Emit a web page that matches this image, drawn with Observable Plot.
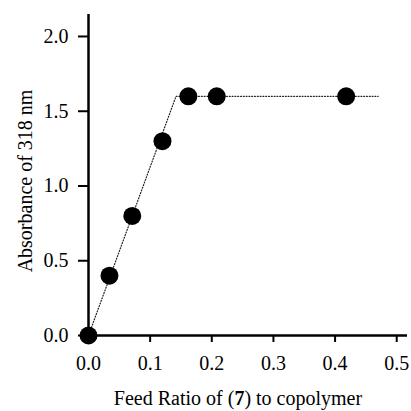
<!DOCTYPE html>
<html>
<head>
<meta charset="utf-8">
<script src="https://cdn.jsdelivr.net/npm/d3@7"></script>
<script src="https://cdn.jsdelivr.net/npm/@observablehq/plot@0.6"></script>
<style>
  html, body { margin: 0; padding: 0; background: white; }
</style>
</head>
<body>
<div id="chart"></div>
<script>
// Measured points
const feedRatio = [0, 0.034, 0.071, 0.12, 0.162, 0.208, 0.418];
const absorbance = [0.0, 0.4, 0.8, 1.3, 1.6, 1.6, 1.6];
// Dotted guide line
const fitX = [0, 0.142, 0.47];
const fitY = [0.0, 1.6, 1.6];
// Ticks
const xTicks = [0, 0.1, 0.2, 0.3, 0.4, 0.5];
const yTicks = [0, 0.5, 1.0, 1.5, 2.0];
// Labels
const yLabel = "Absorbance of 318 nm";
const xLabelParts = [["Feed Ratio of (", false], ["7", true], [") to copolymer", false]];

const points = feedRatio.map((x, i) => ({x, y: absorbance[i]}));
const fit = fitX.map((x, i) => ({x, y: fitY[i]}));
const fmt = d3.format(".1f");
const serif = "'Liberation Serif', 'Times New Roman', serif";

const chart = Plot.plot({
  width: 411,
  height: 411,
  marginLeft: 88,
  marginRight: 4,
  marginTop: 14,
  marginBottom: 76,
  style: {fontFamily: serif, fontSize: "20px", color: "black", background: "white"},
  x: {domain: [0, 0.5175]},
  y: {domain: [0, 2.147]},
  marks: [
    Plot.axisX({ticks: xTicks, tickFormat: fmt, tickSize: 7, tickPadding: 13, strokeWidth: 2, label: null, fontSize: 20}),
    Plot.axisY({ticks: yTicks, tickFormat: fmt, tickSize: 10, tickPadding: 10, strokeWidth: 2, label: null, fontSize: 20}),
    Plot.ruleX([0], {stroke: "black", strokeWidth: 2.5}),
    Plot.ruleY([0], {stroke: "black", strokeWidth: 2.5}),
    Plot.line(fit, {x: "x", y: "y", stroke: "#222", strokeWidth: 1.2, strokeDasharray: "1,1.8"}),
    Plot.dot(points, {x: "x", y: "y", r: 9, fill: "black", stroke: "none"})
  ]
});

const svg = d3.select(chart);
// x label with bold compound number
const xt = svg.append("text")
  .attr("x", 238)
  .attr("y", 405)
  .attr("text-anchor", "middle")
  .attr("font-family", serif)
  .attr("font-size", 20)
  .attr("fill", "black");
xLabelParts.forEach(([t, b]) => {
  xt.append("tspan").attr("font-weight", b ? "bold" : "normal").text(t);
});
// y label
svg.append("text")
  .attr("transform", "translate(32,181) rotate(-90)")
  .attr("text-anchor", "middle")
  .attr("font-family", serif)
  .attr("font-size", 20)
  .attr("fill", "black")
  .text(yLabel);

document.getElementById("chart").appendChild(chart);
</script>
</body>
</html>
